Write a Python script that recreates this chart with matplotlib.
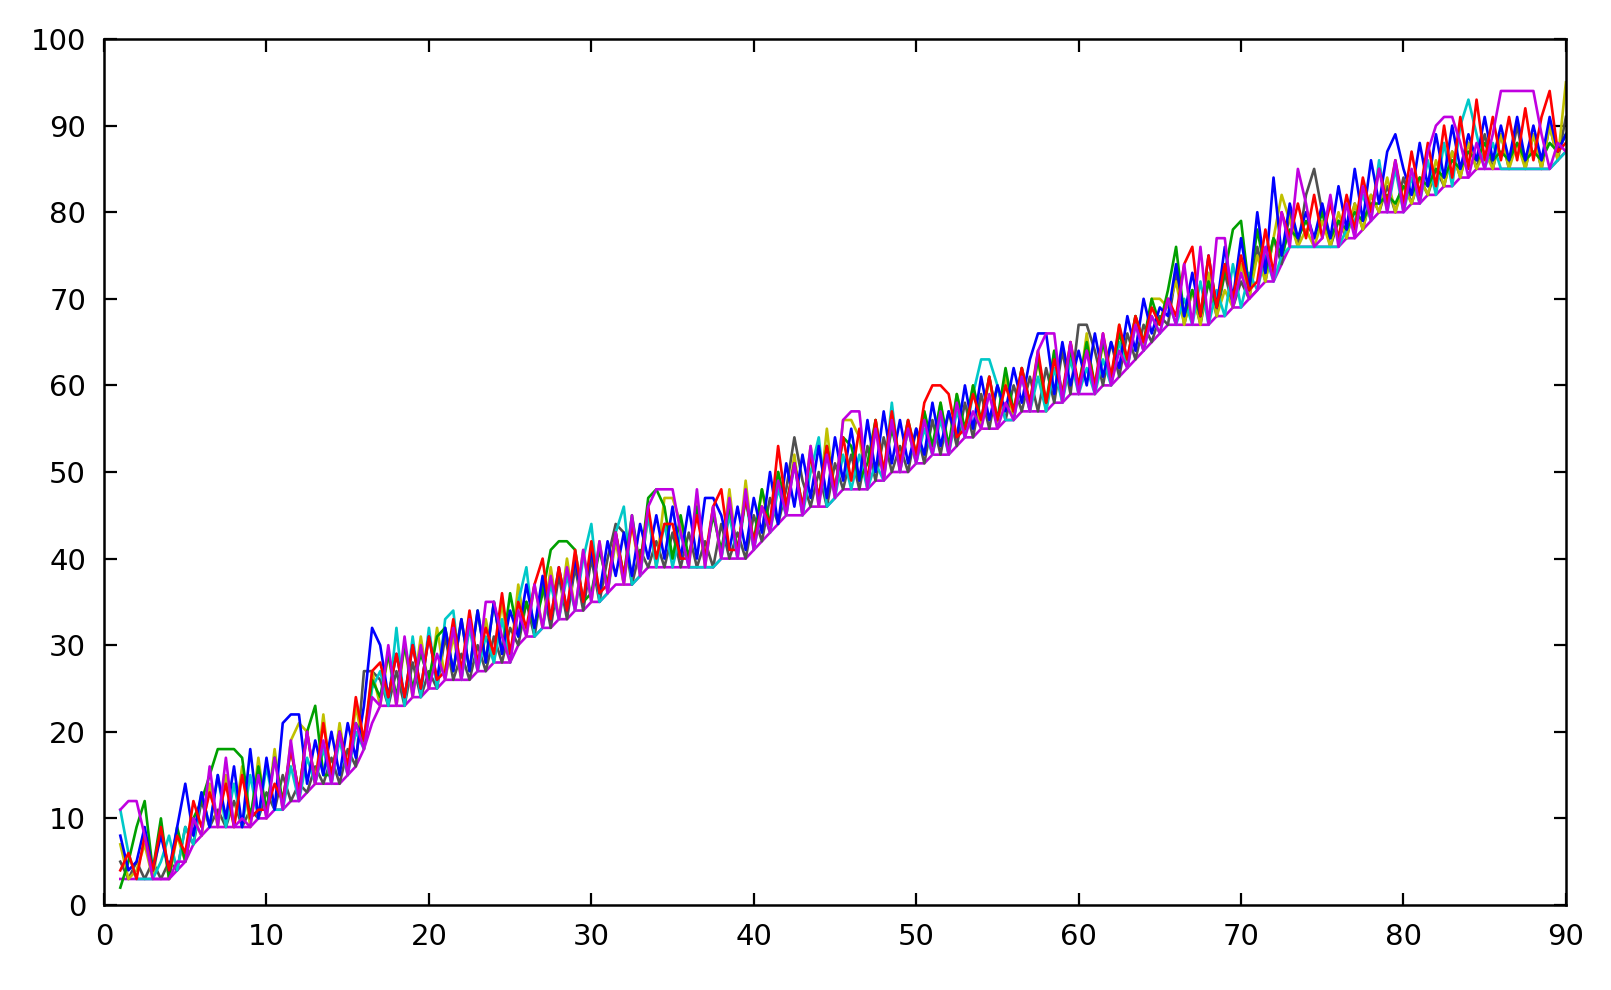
import numpy as np
import matplotlib
matplotlib.use("Agg")
import matplotlib.pyplot as plt

# samples every half unit from x=1 to x=90 (179 points per series)
x = np.arange(1, 90.5, 0.5)

red = [4, 6, 3, 8, 4, 9, 4, 8, 6, 12,
       9, 13, 10, 14, 9, 15, 10, 11, 11, 14,
       12, 18, 13, 20, 14, 21, 15, 20, 16, 24,
       19, 27, 28, 24, 29, 24, 30, 25, 31, 26,
       27, 33, 27, 34, 28, 32, 29, 36, 29, 35,
       32, 37, 40, 33, 39, 34, 41, 35, 42, 36,
       37, 43, 38, 44, 39, 46, 40, 44, 44, 40,
       40, 45, 40, 46, 48, 41, 41, 47, 42, 46,
       44, 53, 46, 51, 46, 52, 47, 53, 48, 54,
       49, 55, 49, 56, 50, 57, 51, 56, 52, 58,
       60, 60, 59, 54, 55, 59, 56, 61, 56, 60,
       57, 62, 58, 64, 58, 63, 59, 65, 60, 64,
       60, 66, 61, 67, 63, 68, 65, 69, 67, 70,
       68, 74, 76, 68, 75, 69, 74, 70, 75, 71,
       72, 78, 73, 80, 77, 81, 77, 82, 77, 81,
       77, 82, 78, 84, 80, 85, 81, 86, 81, 87,
       82, 88, 83, 90, 84, 91, 85, 93, 86, 91,
       86, 91, 86, 92, 86, 91, 94, 87, 88]

green = [2, 5, 9, 12, 4, 10, 3, 9, 5, 10,
         12, 15, 18, 18, 18, 17, 10, 16, 11, 17,
         12, 18, 13, 20, 23, 15, 15, 20, 16, 21,
         19, 26, 24, 29, 24, 30, 25, 29, 26, 31,
         32, 27, 33, 27, 34, 28, 35, 29, 36, 31,
         35, 32, 36, 41, 42, 42, 41, 35, 36, 41,
         37, 43, 38, 45, 39, 47, 48, 46, 40, 45,
         40, 46, 40, 45, 41, 46, 41, 47, 42, 48,
         44, 50, 46, 51, 46, 52, 47, 53, 48, 54,
         53, 49, 51, 56, 50, 55, 51, 56, 52, 57,
         53, 58, 53, 59, 55, 60, 56, 61, 56, 62,
         57, 62, 58, 63, 58, 64, 59, 64, 60, 65,
         60, 65, 61, 66, 63, 68, 65, 70, 67, 71,
         76, 68, 71, 68, 72, 69, 73, 78, 79, 71,
         78, 73, 77, 75, 78, 77, 79, 77, 80, 77,
         79, 78, 80, 79, 81, 81, 82, 81, 83, 82,
         84, 83, 85, 84, 86, 85, 87, 86, 88, 86,
         87, 86, 88, 86, 87, 86, 88, 87, 89]

blue = [8, 4, 5, 9, 4, 8, 4, 9, 14, 8,
        13, 9, 15, 10, 16, 9, 18, 10, 17, 11,
        21, 22, 22, 14, 19, 15, 20, 15, 21, 17,
        23, 32, 30, 24, 29, 24, 30, 25, 31, 26,
        32, 27, 33, 27, 34, 28, 35, 29, 34, 31,
        37, 32, 38, 33, 39, 34, 40, 35, 41, 36,
        42, 38, 43, 38, 44, 40, 45, 40, 46, 40,
        46, 40, 47, 47, 45, 41, 46, 41, 47, 43,
        50, 44, 51, 46, 52, 47, 53, 47, 54, 49,
        55, 49, 56, 50, 57, 51, 56, 51, 55, 52,
        58, 53, 57, 54, 60, 55, 61, 56, 60, 57,
        62, 58, 63, 66, 66, 59, 65, 60, 64, 60,
        66, 61, 65, 62, 68, 64, 70, 66, 69, 68,
        74, 68, 73, 68, 75, 69, 76, 70, 77, 71,
        80, 73, 84, 75, 81, 77, 80, 77, 81, 77,
        83, 78, 85, 79, 86, 81, 87, 89, 85, 82,
        88, 83, 89, 84, 90, 85, 89, 86, 91, 86,
        90, 86, 91, 86, 90, 86, 91, 87, 89]

magenta = [11, 12, 12, 8, 3, 3, 3, 5, 5, 10,
           8, 16, 9, 17, 9, 10, 9, 15, 10, 17,
           11, 19, 12, 20, 14, 19, 14, 20, 15, 21,
           18, 24, 23, 30, 23, 31, 24, 30, 25, 29,
           26, 32, 26, 33, 27, 35, 35, 31, 28, 34,
           31, 37, 32, 38, 33, 39, 34, 41, 35, 42,
           36, 43, 37, 45, 38, 46, 48, 48, 48, 43,
           39, 48, 39, 46, 40, 47, 40, 48, 41, 46,
           43, 49, 45, 51, 45, 53, 46, 52, 47, 56,
           57, 57, 48, 55, 49, 56, 50, 55, 51, 56,
           52, 57, 52, 58, 54, 57, 55, 59, 55, 58,
           56, 61, 57, 64, 66, 66, 58, 65, 59, 64,
           59, 66, 60, 64, 62, 67, 64, 68, 66, 70,
           67, 74, 67, 76, 67, 77, 77, 69, 73, 70,
           71, 76, 72, 80, 76, 85, 81, 76, 77, 82,
           76, 81, 77, 83, 79, 85, 80, 86, 80, 85,
           81, 87, 90, 91, 91, 88, 84, 88, 85, 89,
           94, 94, 94, 94, 94, 89, 85, 88, 87]

cyan = [11, 6, 3, 3, 3, 5, 8, 4, 9, 7,
        13, 9, 15, 9, 14, 9, 15, 10, 16, 11,
        11, 16, 12, 17, 14, 18, 14, 19, 15, 20,
        18, 25, 27, 23, 32, 23, 31, 24, 32, 25,
        33, 34, 26, 32, 27, 31, 28, 33, 28, 35,
        39, 31, 32, 37, 33, 38, 34, 40, 44, 35,
        36, 43, 46, 37, 38, 45, 39, 44, 39, 43,
        39, 39, 39, 39, 40, 45, 40, 47, 41, 46,
        43, 48, 45, 51, 45, 50, 54, 46, 47, 52,
        48, 52, 48, 51, 49, 58, 50, 55, 51, 55,
        52, 56, 52, 57, 54, 59, 63, 63, 60, 56,
        56, 61, 57, 61, 57, 62, 58, 63, 59, 62,
        59, 63, 60, 65, 62, 67, 64, 68, 66, 70,
        67, 70, 67, 72, 67, 71, 68, 74, 69, 73,
        71, 75, 72, 75, 76, 76, 76, 76, 76, 76,
        76, 78, 79, 82, 79, 86, 80, 85, 80, 84,
        81, 86, 82, 88, 83, 90, 93, 89, 85, 88,
        85, 85, 85, 85, 85, 85, 85, 86, 87]

olive = [7, 3, 4, 7, 3, 9, 3, 8, 5, 10,
         8, 14, 9, 15, 9, 16, 9, 17, 10, 18,
         11, 19, 21, 20, 14, 22, 14, 21, 15, 23,
         18, 27, 23, 29, 23, 30, 24, 31, 25, 32,
         26, 31, 26, 33, 27, 33, 28, 35, 28, 37,
         31, 37, 32, 39, 33, 40, 34, 41, 35, 42,
         36, 42, 37, 44, 38, 45, 39, 47, 47, 44,
         39, 47, 39, 46, 40, 48, 40, 49, 41, 48,
         43, 50, 45, 52, 45, 53, 46, 55, 47, 56,
         56, 54, 48, 56, 49, 57, 50, 55, 51, 57,
         52, 58, 52, 59, 54, 60, 55, 61, 55, 61,
         56, 62, 57, 63, 57, 64, 58, 65, 59, 66,
         59, 65, 60, 67, 62, 68, 64, 70, 70, 69,
         72, 67, 71, 67, 73, 68, 71, 69, 74, 70,
         75, 72, 77, 82, 79, 76, 78, 76, 79, 76,
         80, 77, 81, 78, 82, 80, 84, 80, 83, 81,
         84, 82, 86, 83, 87, 84, 88, 85, 87, 85,
         89, 85, 88, 85, 89, 85, 90, 86, 95]

gray = [5, 3, 5, 3, 5, 3, 5, 4, 9, 7,
        12, 9, 11, 9, 12, 9, 11, 10, 13, 11,
        15, 12, 14, 13, 16, 14, 17, 14, 18, 16,
        27, 27, 26, 23, 27, 23, 28, 24, 27, 25,
        31, 26, 29, 26, 30, 27, 31, 28, 32, 30,
        35, 31, 37, 32, 38, 33, 39, 34, 40, 35,
        40, 44, 43, 37, 41, 39, 42, 39, 43, 39,
        43, 39, 42, 39, 44, 40, 43, 40, 45, 42,
        47, 44, 48, 54, 49, 46, 50, 46, 51, 48,
        52, 48, 53, 49, 54, 50, 53, 50, 55, 51,
        56, 52, 57, 53, 58, 54, 59, 55, 60, 56,
        60, 57, 61, 57, 62, 58, 64, 59, 67, 67,
        64, 60, 65, 61, 66, 63, 67, 65, 68, 67,
        73, 67, 71, 67, 72, 68, 73, 69, 72, 70,
        76, 72, 77, 74, 80, 76, 82, 85, 80, 76,
        79, 77, 81, 78, 82, 80, 83, 80, 84, 81,
        84, 82, 85, 83, 87, 84, 88, 85, 89, 85,
        89, 85, 90, 85, 89, 85, 90, 86, 91]

# lowest series, runs along the bottom of the bundle
floor = [3, 3, 3, 3, 3, 3, 3, 4, 5, 7,
         8, 9, 9, 9, 9, 9, 9, 10, 10, 11,
         11, 12, 12, 13, 14, 14, 14, 14, 15, 16,
         18, 21, 23, 23, 23, 23, 24, 24, 25, 25,
         26, 26, 26, 26, 27, 27, 28, 28, 28, 30,
         31, 31, 32, 32, 33, 33, 34, 34, 35, 35,
         36, 37, 37, 37, 38, 39, 39, 39, 39, 39,
         39, 39, 39, 39, 40, 40, 40, 40, 41, 42,
         43, 44, 45, 45, 45, 46, 46, 46, 47, 48,
         48, 48, 48, 49, 49, 50, 50, 50, 51, 51,
         52, 52, 52, 53, 54, 54, 55, 55, 55, 56,
         56, 57, 57, 57, 57, 58, 58, 59, 59, 59,
         59, 60, 60, 61, 62, 63, 64, 65, 66, 67,
         67, 67, 67, 67, 67, 68, 68, 69, 69, 70,
         71, 72, 72, 74, 76, 76, 76, 76, 76, 76,
         76, 77, 77, 78, 79, 80, 80, 80, 80, 81,
         81, 82, 82, 83, 83, 84, 84, 85, 85, 85,
         85, 85, 85, 85, 85, 85, 85, 86, 87]

series = [
    (floor, "#c000e0"),
    (gray, "#505050"),
    (olive, "#c0c000"),
    (cyan, "#00c8c8"),
    (green, "#00a000"),
    (blue, "#0000ff"),
    (red, "#ff0000"),
    (magenta, "#c000e0"),
]

fig = plt.figure(figsize=(16.11, 9.9), dpi=100)
ax = fig.add_axes([0.0646, 0.0859, 0.9074, 0.8747])

for ys, col in series:
    ax.plot(x, ys, color=col, lw=1.9)

ax.set_xlim(0, 90)
ax.set_ylim(0, 100)
ax.set_xticks(range(0, 91, 10))
ax.set_yticks(range(0, 101, 10))
ax.tick_params(direction="in", length=9, width=1.6, top=True, right=True,
               labelsize=21, pad=13)
for sp in ax.spines.values():
    sp.set_linewidth(1.8)

fig.savefig("out.png", dpi=100)
